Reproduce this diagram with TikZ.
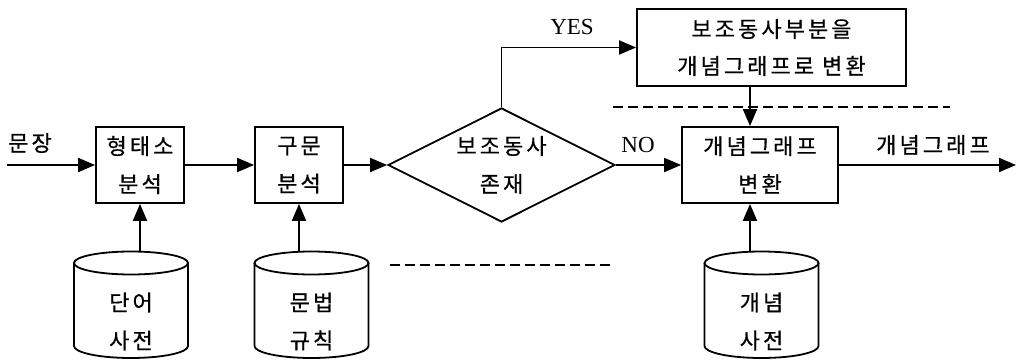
\documentclass[tikz,border=0pt]{standalone}
\usepackage{fontspec}
\setmainfont{Liberation Serif}
\newfontfamily\kr{Noto Sans CJK KR}[LetterSpace=14,FakeBold=0.6]
\usetikzlibrary{arrows.meta,shapes.geometric,calc}
\newcommand\dbcyl[1]{%
  \draw[line width=1.8pt] ($(#1.center)+(-57,58.5)$) -- ($(#1.center)+(-57,-24.5)$)
    arc[start angle=180, end angle=360, x radius=57, y radius=12]
    -- ($(#1.center)+(57,58.5)$);
  \draw[line width=1.8pt] ($(#1.center)+(0,58.5)$) ellipse[x radius=57, y radius=11.5];
}
\begin{document}
\begin{tikzpicture}[x=1pt,y=1pt,
  ktext/.style={font=\kr\fontsize{22}{38}\selectfont, align=center, inner sep=0pt},
  proc/.style={ktext, draw, line width=1.8pt},
  dbnode/.style={ktext, minimum width=114pt, minimum height=140pt},
  conn/.style={line width=1.9pt, -{Triangle[length=17pt,width=14pt]}},
  dashline/.style={line width=1.4pt, dash pattern=on 10pt off 5pt},
  latin/.style={font=\fontsize{23}{24}\selectfont, inner sep=0pt}]
\useasboundingbox (0,0) rectangle (1017,359);
% nodes
\node[ktext] (in) at (30,216) {문장};
\coordinate (src) at (7,194);
\node[proc, minimum width=88pt, minimum height=76pt] (b1) at (140,194) {형태소\\분석};
\node[proc, minimum width=88pt, minimum height=76pt] (b2) at (299,194) {구문\\분석};
\node[ktext, draw, line width=1.8pt, shape=diamond, aspect=2, minimum width=227pt, minimum height=114pt] (dia) at (501.5,194) {보조동사\\존재};
\node[proc, minimum width=269pt, minimum height=77pt, font=\kr\fontsize{22}{37}\selectfont] (top) at (771.5,311.5) {보조동사부분을\\개념그래프로 변환};
\node[proc, minimum width=156pt, minimum height=76pt] (b3) at (760,194) {개념그래프\\변환};
\coordinate (out) at (1016,194);
\coordinate (vx) at (750,0);
\node[dbnode] (c1) at (131,37.5) {단어\\사전};
\node[dbnode] (c2) at (311.5,37.5) {문법\\규칙};
\node[dbnode] (c3) at (761.5,37.5) {개념\\사전};
\dbcyl{c1}
\dbcyl{c2}
\dbcyl{c3}
% labels
\node[latin] (yes) at (572,332) {YES};
\node[latin] (no) at (638,214) {NO};
\node[ktext] (outl) at (933,214) {개념그래프};
% connectors
\draw[conn] (src) -- (b1);
\draw[conn] (b1) -- (b2);
\draw[conn] (b2) -- (dia);
\draw[conn] (dia.north) |- (top.west);
\draw[conn] (dia) -- (b3);
\draw[conn] (vx |- top.south) -- (vx |- b3.north);
\draw[conn] (b3) -- (out);
\draw[conn] (b1.south |- c1.north) -- (b1.south);
\draw[conn] (b2.south |- c2.north) -- (b2.south);
\draw[conn] (vx |- c3.north) -- (vx |- b3.south);
% dashed lines
\coordinate (d1a) at (613,252);
\coordinate (d1b) at (950,252);
\coordinate (d2a) at (390,94);
\coordinate (d2b) at (610,94);
\draw[dashline] (d1a) -- (d1b);
\draw[dashline] (d2a) -- (d2b);
\end{tikzpicture}
\end{document}
